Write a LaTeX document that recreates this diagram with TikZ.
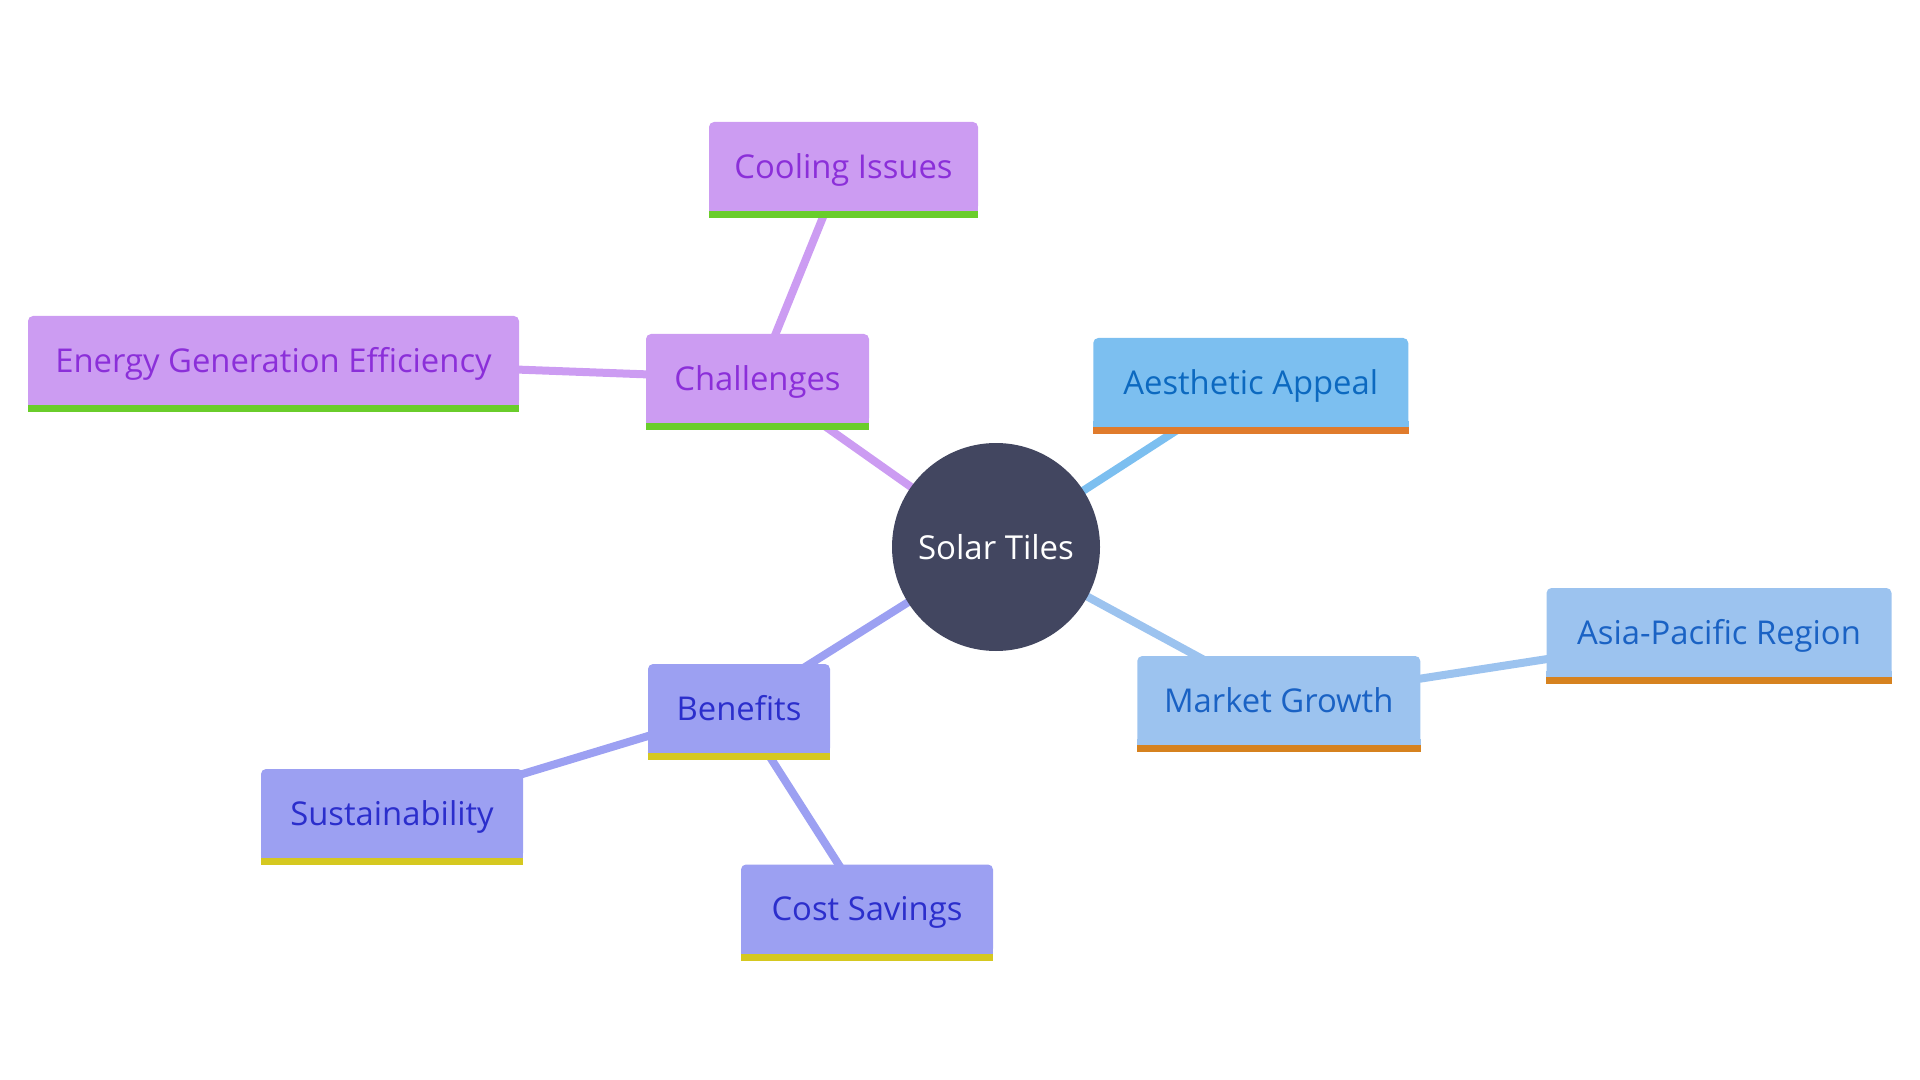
\documentclass[tikz,border=0pt]{standalone}
\usepackage{fontspec}
\setmainfont{Open Sans}
\usetikzlibrary{backgrounds}
\definecolor{purfill}{HTML}{CC9CF2}
\definecolor{purtext}{HTML}{8B2FD9}
\definecolor{purbar}{HTML}{6ACD2B}
\definecolor{aesfill}{HTML}{7CBFF0}
\definecolor{aestext}{HTML}{0C69C0}
\definecolor{aesbar}{HTML}{E07B2C}
\definecolor{mgfill}{HTML}{9CC3EF}
\definecolor{mgtext}{HTML}{1A62C4}
\definecolor{mgbar}{HTML}{D6821F}
\definecolor{benfill}{HTML}{9CA0F2}
\definecolor{bentext}{HTML}{2B2ECC}
\definecolor{benbar}{HTML}{D5C820}
\definecolor{rootfill}{HTML}{424660}
\tikzset{
  box/.style={rectangle, rounded corners=2.5pt, inner sep=0pt, minimum height=44.5pt,
    font=\fontsize{16.4}{19}\selectfont, text height=11.6pt, text depth=0pt},
  pur/.style={box, fill=purfill, text=purtext},
  aes/.style={box, fill=aesfill, text=aestext},
  mg/.style={box, fill=mgfill, text=mgtext},
  ben/.style={box, fill=benfill, text=bentext},
  link/.style={line width=4pt},
}
\begin{document}
\begin{tikzpicture}[x=0.5pt,y=-0.5pt]
\useasboundingbox (0,0) rectangle (1920,1080);
\node[circle, fill=rootfill, minimum size=104pt, inner sep=0pt, text=white,
  font=\fontsize{16.5}{19}\selectfont] (root) at (996,547) {Solar Tiles};
\node[pur, minimum width=111.5pt] (chal) at (757.5,378.5) {Challenges};
\node[pur, minimum width=134.5pt] (cool) at (843.5,166.5) {Cooling Issues};
\node[pur, minimum width=245.5pt] (energy) at (273.5,360.5) {Energy Generation Efficiency};
\node[aes, minimum width=157.5pt] (aes) at (1250.75,382.5) {Aesthetic Appeal};
\node[mg, minimum width=141.5pt] (mg) at (1278.75,700.5) {Market Growth};
\node[mg, minimum width=172.5pt] (asia) at (1719,632.5) {Asia-Pacific Region};
\node[ben, minimum width=91pt] (ben) at (739,708.5) {Benefits};
\node[ben, minimum width=131pt] (sust) at (392,813.5) {Sustainability};
\node[ben, minimum width=126pt] (cost) at (867,909) {Cost Savings};
% bottom bars
\foreach \n/\c/\f in {chal/purbar/purfill, cool/purbar/purfill, energy/purbar/purfill,
  aes/aesbar/aesfill, mg/mgbar/mgfill, asia/mgbar/mgfill,
  ben/benbar/benfill, sust/benbar/benfill, cost/benbar/benfill}{
  \fill[\f] ([yshift=3pt]\n.south west) rectangle (\n.south east);
  \fill[\c] (\n.south west) rectangle ([yshift=-3.5pt]\n.south east);
}
\begin{pgfonlayer}{background}
\draw[link, purfill] (root.center) -- (chal.center);
\draw[link, purfill] (chal.center) -- (cool.center);
\draw[link, purfill] (chal.center) -- (energy.center);
\draw[link, aesfill] (root.center) -- (aes.center);
\draw[link, mgfill] (root.center) -- (mg.center);
\draw[link, mgfill] (mg.center) -- (asia.center);
\draw[link, benfill] (root.center) -- (ben.center);
\draw[link, benfill] (ben.center) -- (sust.center);
\draw[link, benfill] (ben.center) -- (cost.center);
\end{pgfonlayer}
\end{tikzpicture}
\end{document}
